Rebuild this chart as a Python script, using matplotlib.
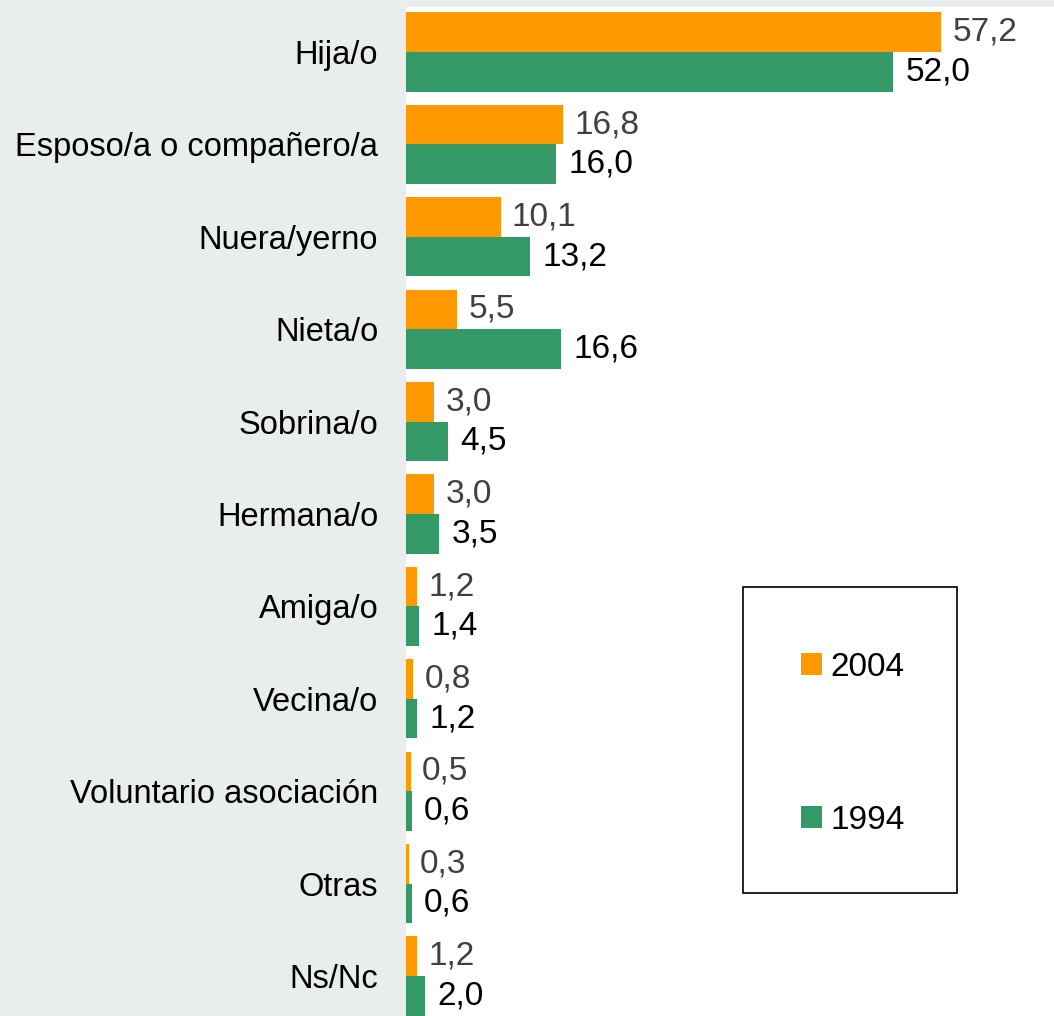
import matplotlib.pyplot as plt
import numpy as np
from matplotlib.patches import Rectangle

categories = ['Hija/o', 'Esposo/a o compañero/a', 'Nuera/yerno', 'Nieta/o',
              'Sobrina/o', 'Hermana/o', 'Amiga/o', 'Vecina/o',
              'Voluntario asociación', 'Otras', 'Ns/Nc']
vals_2004 = [57.2, 16.8, 10.1, 5.5, 3.0, 3.0, 1.2, 0.8, 0.5, 0.3, 1.2]
vals_1994 = [52.0, 16.0, 13.2, 16.6, 4.5, 3.5, 1.4, 1.2, 0.6, 0.6, 2.0]

ORANGE = '#FF9900'
GREEN = '#339966'
BG = '#E9EDED'

plt.rcParams['font.family'] = ['Liberation Sans', 'DejaVu Sans']

W, H = 1054, 1016
fig = plt.figure(figsize=(W / 100, H / 100), dpi=100)
fig.patch.set_facecolor(BG)

# plot area in pixels: x 406..1054, y 7..1016
ax = fig.add_axes([406 / W, 0, 1 - 406 / W, 1 - 7 / H])
ax.set_facecolor('white')

y = np.arange(len(categories))
h = 0.4275
bars04 = ax.barh(y - h / 2, vals_2004, height=h, color=ORANGE, label='2004')
bars94 = ax.barh(y + h / 2, vals_1994, height=h, color=GREEN, label='1994')

fmt = lambda v: f"{v:.1f}".replace('.', ',')
ax.bar_label(bars04, labels=[fmt(v) for v in vals_2004], padding=8,
             fontsize=24, color='#404040')
ax.bar_label(bars94, labels=[fmt(v) for v in vals_1994], padding=9,
             fontsize=24, color='black')

ax.set_xlim(0, 648 / 9.36)
ax.set_ylim((1016 - 52) / 92.4, (7 - 52) / 92.4)
ax.set_yticks(y)
ax.set_yticklabels(categories, fontsize=23.5)
ax.tick_params(axis='y', length=0, pad=20)
ax.set_xticks([])
for s in ax.spines.values():
    s.set_visible(False)

# legend frame
fig.add_artist(Rectangle((743 / W, 1 - 893 / H), (957 - 743) / W, (893 - 587) / H,
                         transform=fig.transFigure, facecolor='white',
                         edgecolor='black', linewidth=1.2))
fig.legend(handles=[bars04, bars94], labels=['2004', '1994'],
           loc='center', bbox_to_anchor=(853 / W, 1 - 744 / H),
           frameon=False, fontsize=24, handlelength=0.63, handleheight=0.63,
           handletextpad=0.25, labelspacing=3.66, borderpad=0)

fig.savefig('out.png', dpi=100, facecolor=BG)
